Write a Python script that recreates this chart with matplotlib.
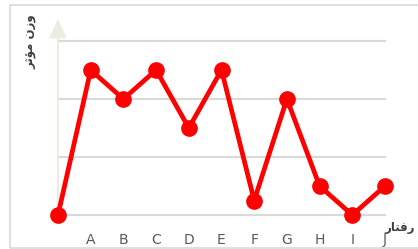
import matplotlib
matplotlib.use('Agg')
import matplotlib.pyplot as plt
from matplotlib.patches import Rectangle

# data (first point is the origin, no label)
categories = ['', 'A', 'B', 'C', 'D', 'E', 'F', 'G', 'H', 'I', 'J']
values = [0, 2.5, 2, 2.5, 1.5, 2.5, 0.25, 2, 0.5, 0, 0.5]
grid_levels = [0, 1, 2, 3]

# arabic labels, already shaped (presentation forms) and in visual order
x_title = '\uFEAD\uFE8E\uFE98\uFED3\uFEAD'            # رفتار
y_title = '\uFEAE\uFE9B\uFE86\uFEE3 \uFEE5\uFEAF\uFEED'  # وزن مؤثر

W, H = 418, 249
fig = plt.figure(figsize=(W / 100, H / 100), dpi=100)

# outer chart border
fig.patches.append(Rectangle((10 / W, 1 - 248 / H), 1, (248 - 5) / H,
                             transform=fig.transFigure, fill=False,
                             edgecolor='#D9D9D9', lw=1.2))

ax = fig.add_axes([58 / W, 1 - 215 / H, (385 - 58) / W, (215 - 41) / H])
ax.set_xlim(0, len(categories) - 1)
ax.set_ylim(0, 3)
for s in ax.spines.values():
    s.set_visible(False)

for g in grid_levels:
    ax.plot([0, len(categories) - 1], [g, g], color='#D9D9D9', lw=1.5,
            zorder=1, clip_on=False)

# vertical axis with arrow head
ax.annotate('', xy=(0, 3.38), xytext=(0, 0),
            arrowprops=dict(arrowstyle='-|>,head_length=0.55,head_width=0.26',
                            color='#EEECE1', lw=1.5, mutation_scale=21,
                            shrinkA=0, shrinkB=0),
            annotation_clip=False, zorder=2)

xs = list(range(len(categories)))
ax.plot(xs, values, color='#FF0000', lw=3.4, marker='o', ms=11,
        zorder=3, clip_on=False)

ax.set_xticks(xs[1:])
ax.set_xticklabels(categories[1:], color='#595959', fontsize=10)
ax.set_yticks([])
ax.tick_params(axis='x', length=0, pad=13)

fig.text(400 / W, 1 - 227 / H, x_title, ha='center', va='center',
         fontsize=8.5, fontweight='bold', color='#404040', family='DejaVu Sans')
fig.text(31 / W, 1 - 42 / H, y_title, ha='center', va='center', rotation=90,
         fontsize=8.5, fontweight='bold', color='#404040', family='DejaVu Sans')

fig.savefig('out.png', dpi=100)
